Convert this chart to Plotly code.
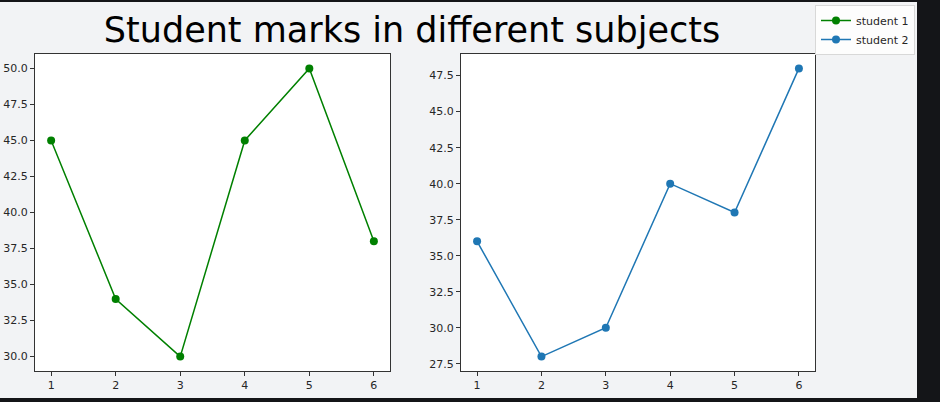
import plotly.graph_objects as go

subjects = [1, 2, 3, 4, 5, 6]
student1 = [45, 34, 30, 45, 50, 38]
student2 = [36, 28, 30, 40, 38, 48]
title_text = "Student marks in different subjects"

W, H = 940, 402
L, R, T, B = 35, 815, 54, 371
BG = "#f2f3f5"
DARK = "#141518"

def px_x(p):
    return (p - L) / (R - L)

def px_y(p):
    return (B - p) / (B - T)

fig = go.Figure()
fig.add_trace(go.Scatter(x=subjects, y=student1, mode="lines+markers", name="student 1",
                         line=dict(color="green", width=1.5), marker=dict(color="green", size=8),
                         xaxis="x", yaxis="y"))
fig.add_trace(go.Scatter(x=subjects, y=student2, mode="lines+markers", name="student 2",
                         line=dict(color="#1f77b4", width=1.5), marker=dict(color="#1f77b4", size=8),
                         xaxis="x2", yaxis="y2"))

axis_common = dict(showgrid=False, zeroline=False, showline=True, mirror=True, automargin=False,
                   linecolor="#333333", linewidth=1, ticks="outside", ticklen=4,
                   tickcolor="#333333", tickfont=dict(family="DejaVu Sans", size=11, color="#262626"))

fig.update_layout(
    width=W, height=H,
    margin=dict(l=L, r=W - R, t=T, b=H - B, autoexpand=False),
    paper_bgcolor=BG, plot_bgcolor="white",
    xaxis=dict(domain=[0, px_x(390)], range=[0.75, 6.25], tickvals=subjects, **axis_common),
    yaxis=dict(range=[29, 51], tickvals=[30, 32.5, 35, 37.5, 40, 42.5, 45, 47.5, 50],
               tickformat=".1f", **axis_common),
    xaxis2=dict(domain=[px_x(461), 1], range=[0.75, 6.25], tickvals=subjects, anchor="y2", **axis_common),
    yaxis2=dict(range=[27, 49], tickvals=[27.5, 30, 32.5, 35, 37.5, 40, 42.5, 45, 47.5],
                tickformat=".1f", anchor="x2", **axis_common),
    showlegend=True,
    legend=dict(x=px_x(815), y=px_y(5), xanchor="left", yanchor="top",
                bgcolor="rgba(255,255,255,0.8)", bordercolor="#d8d8d8", borderwidth=1,
                font=dict(family="DejaVu Sans", size=11, color="#262626"),
                tracegroupgap=0, itemwidth=30),
    title=dict(text=title_text, x=412 / W, xanchor="center", y=1 - 30 / H, yanchor="middle",
               font=dict(family="DejaVu Sans", size=35, color="black")),
    shapes=[
        dict(type="rect", xref="paper", yref="paper", x0=px_x(917), x1=px_x(941),
             y0=px_y(403), y1=px_y(-1), fillcolor=DARK, line=dict(width=0), layer="above"),
        dict(type="rect", xref="paper", yref="paper", x0=px_x(-1), x1=px_x(941),
             y0=px_y(403), y1=px_y(398), fillcolor=DARK, line=dict(width=0), layer="above"),
        dict(type="rect", xref="paper", yref="paper", x0=px_x(-1), x1=px_x(941),
             y0=px_y(2), y1=px_y(-1), fillcolor=DARK, line=dict(width=0), layer="above"),
    ],
)

fig.write_html("out.html", config={"displayModeBar": False},
               post_script="document.body.style.margin='0';document.body.style.overflow='hidden';")
